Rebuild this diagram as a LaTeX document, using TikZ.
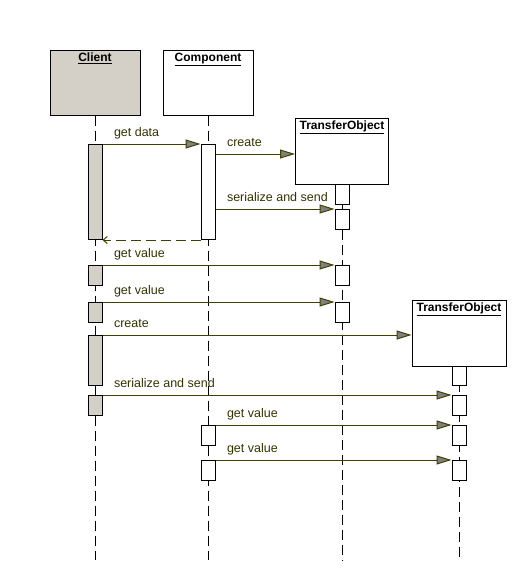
\documentclass[tikz,border=0pt]{standalone}
\usepackage{fontspec}
\setmainfont{Liberation Sans}
\usetikzlibrary{arrows.meta}

\definecolor{clientgray}{RGB}{212,208,200}
\definecolor{msgline}{RGB}{64,64,0}
\definecolor{msgtext}{RGB}{51,51,0}
\definecolor{tipgray}{RGB}{128,128,128}

\tikzset{
  head/.style={draw, minimum width=90pt, minimum height=65pt, inner sep=0pt},
  title/.style={anchor=north, inner sep=2pt, yshift=-1pt,
    font=\bfseries\fontsize{12}{14}\selectfont},
  life/.style={dash pattern=on 10pt off 5pt},
  act/.style={draw, fill=white, minimum width=14pt, inner sep=0pt, anchor=north},
  msg/.style={draw=msgline, -{Triangle[length=15pt, width=9pt, fill=tipgray]}},
  back/.style={draw=msgline, dash pattern=on 10pt off 5pt,
    -{Straight Barb[length=4pt, width=7pt]}},
  lbl/.style={anchor=base west, pos=0, xshift=11pt, yshift=8pt, inner sep=0pt,
    text=msgtext, font=\fontsize{12.5}{14}\selectfont}
}

\begin{document}
\begin{tikzpicture}[x=1pt, y=-1pt, line width=1pt]
  \fill[white] (0,0) rectangle (517,571);
  \useasboundingbox (0,0) rectangle (517,571);

  % lifeline heads
  \node[head, fill=clientgray, label={[title]north:\underline{Client}}] (client) at (95,82.5) {};
  \node[head, label={[title]north:\underline{Component}}] (comp) at (208,82.5) {};
  \node[head, minimum width=93pt, minimum height=66pt,
    label={[title]north:\underline{TransferObject}}] (to1) at (342,151) {};
  \node[head, minimum width=94pt, minimum height=66pt,
    label={[title]north:\underline{TransferObject}}] (to2) at (459,333) {};

  % lifelines
  \coordinate (bottom) at (0,560);
  \draw[life] (client.south) -- (client.south |- bottom);
  \draw[life] (comp.south) -- (comp.south |- bottom);
  \draw[life] (to1.south) -- (to1.south |- bottom);
  \draw[life] (to2.south) -- (to2.south |- bottom);

  % activations
  \node[act, fill=clientgray, minimum height=95pt] (c1) at (95,144) {};
  \node[act, minimum height=95pt] (k1) at (208,144) {};
  \node[act, minimum height=20pt] (t1a) at (342,184) {};
  \node[act, minimum height=20pt] (t1b) at (342,209) {};
  \node[act, fill=clientgray, minimum height=20pt] (c2) at (95,265) {};
  \node[act, minimum height=20pt] (t1c) at (342,265) {};
  \node[act, fill=clientgray, minimum height=20pt] (c3) at (95,302) {};
  \node[act, minimum height=20pt] (t1d) at (342,302) {};
  \node[act, fill=clientgray, minimum height=50pt] (c4) at (95,335) {};
  \node[act, minimum height=19pt] (t2a) at (459,366) {};
  \node[act, fill=clientgray, minimum height=20pt] (c5) at (95,395) {};
  \node[act, minimum height=20pt] (t2b) at (459,395) {};
  \node[act, minimum height=20pt] (k2) at (208,425) {};
  \node[act, minimum height=20pt] (t2c) at (459,425) {};
  \node[act, minimum height=20pt] (k3) at (208,460) {};
  \node[act, minimum height=20pt] (t2d) at (459,460) {};

  % messages
  \coordinate (cr1) at ([yshift=-3pt]to1.west);
  \coordinate (cr2) at ([yshift=-2pt]to2.west);
  \draw[msg] (c1.north east) -- (k1.north west) node[lbl] {get data};
  \draw[msg] (k1.east |- cr1) -- (cr1) node[lbl] {create};
  \draw[msg] (k1.east |- t1b.north) -- (t1b.north west) node[lbl] {serialize and send};
  \draw[back] (k1.south west) -- (c1.south east);
  \draw[msg] (c2.north east) -- (t1c.north west) node[lbl] {get value};
  \draw[msg] (c3.north east) -- (t1d.north west) node[lbl] {get value};
  \draw[msg] (c4.north east) -- (cr2) node[lbl] {create};
  \draw[msg] (c5.north east) -- (t2b.north west) node[lbl] {serialize and send};
  \draw[msg] (k2.north east) -- (t2c.north west) node[lbl] {get value};
  \draw[msg] (k3.north east) -- (t2d.north west) node[lbl] {get value};
\end{tikzpicture}
\end{document}
